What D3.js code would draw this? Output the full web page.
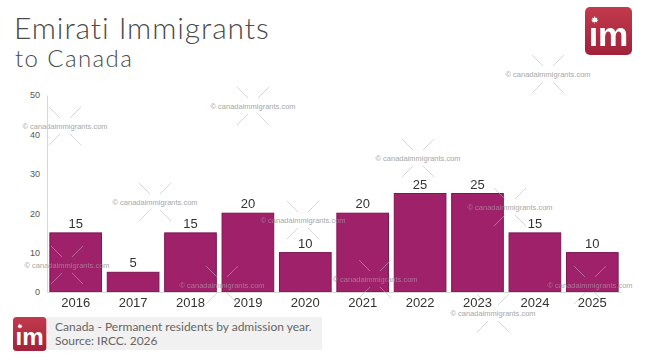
<!DOCTYPE html>
<html>
<head>
<meta charset="utf-8">
<script src="https://cdn.jsdelivr.net/npm/d3@7"></script>
<style>
  body { margin: 0; background: #fff; }
  svg { display: block; }
  .title { font-family: "Lato", "DejaVu Sans", sans-serif; font-weight: 300; fill: #4a4a4a; }
  .tick text { font-family: "Liberation Sans", Arial, sans-serif; }
  .wm { font-family: "Liberation Sans", Arial, sans-serif; font-size: 7.5px; fill: #b8b8b8; }
</style>
</head>
<body>
<div id="chart"></div>
<script>
// Data
const years = ["2016", "2017", "2018", "2019", "2020", "2021", "2022", "2023", "2024", "2025"];
const immigrants = [15, 5, 15, 20, 10, 20, 25, 25, 15, 10];
const yTicks = [0, 10, 20, 30, 40, 50];
// watermark centres (pixels)
const watermarks = [[65, 126], [253, 106], [155, 202], [548, 74], [418, 158], [303, 220],
    [67, 265], [222, 285], [375, 279], [510, 207], [590, 285], [493, 313]];

const W = 645, H = 363;
const barColor = "#9f216a";

const svg = d3.select("#chart")
    .append("svg")
    .attr("width", W)
    .attr("height", H);

// Title
svg.append("text")
    .attr("class", "title")
    .attr("x", 14)
    .attr("y", 39)
    .style("font-size", "30px")
    .style("letter-spacing", "0.9px")
    .text("Emirati Immigrants");
svg.append("text")
    .attr("class", "title")
    .attr("x", 15)
    .attr("y", 67)
    .style("font-size", "24px")
    .style("letter-spacing", "1.4px")
    .text("to Canada");

// Scales
const x = d3.scaleBand()
    .domain(years)
    .range([47, 621])
    .paddingInner(0.1)
    .paddingOuter(0.05);

const y = d3.scaleLinear()
    .domain([0, 50])
    .range([292, 95]);

function drawWatermarks(parent) {
    watermarks.forEach(([cx, cy]) => {
        const g = parent.append("g").attr("transform", `translate(${cx},${cy})`);
        [[-1, -1], [1, -1], [-1, 1], [1, 1]].forEach(([sx, sy]) => {
            g.append("line")
                .attr("x1", sx * 5).attr("y1", sy * 8)
                .attr("x2", sx * 16).attr("y2", sy * 19)
                .attr("stroke", "#d0d0d0")
                .attr("stroke-width", 0.8);
        });
        g.append("text")
            .attr("class", "wm")
            .attr("text-anchor", "middle")
            .attr("y", 3)
            .text("\u00a9 canadaimmigrants.com");
    });
}

// Watermarks (drawn under bars)
drawWatermarks(svg.append("g"));

// Y axis
const yAxis = svg.append("g")
    .attr("transform", "translate(47,0)")
    .call(d3.axisLeft(y).tickValues(yTicks).tickSize(0).tickPadding(7));
yAxis.select(".domain").attr("stroke", "#d8d8d8");
yAxis.selectAll("text").style("font-size", "9px").attr("fill", "#555");

// Bars
svg.selectAll(".bar")
    .data(immigrants)
    .enter()
    .append("rect")
    .attr("class", "bar")
    .attr("x", (d, i) => x(years[i]))
    .attr("y", d => y(d))
    .attr("width", x.bandwidth())
    .attr("height", d => y(0) - y(d))
    .attr("fill", barColor)
    .attr("stroke", "#7d1552")
    .attr("stroke-width", 1);

// Watermarks on top of bars (faint)
drawWatermarks(svg.append("g").style("opacity", 0.55));

// X axis
const xAxis = svg.append("g")
    .attr("transform", `translate(0,${y(0)})`)
    .call(d3.axisBottom(x).tickSize(0).tickPadding(6));
xAxis.select(".domain").attr("stroke", "#d8d8d8");
xAxis.selectAll("text").style("font-size", "13px").attr("fill", "#333");

// Value labels
svg.selectAll(".label")
    .data(immigrants)
    .enter()
    .append("text")
    .attr("class", "label")
    .attr("x", (d, i) => x(years[i]) + x.bandwidth() / 2)
    .attr("y", d => y(d) - 5)
    .attr("text-anchor", "middle")
    .style("font-family", "Liberation Sans, Arial, sans-serif")
    .style("font-size", "13px")
    .attr("fill", "#333")
    .text(d => d);

// Logo
function drawLogo(x0, y0, s) {
    const g = svg.append("g").attr("transform", `translate(${x0},${y0}) scale(${s})`);
    const grad = svg.append("defs").append("linearGradient")
        .attr("id", "lg" + x0).attr("x1", 0).attr("y1", 0).attr("x2", 0).attr("y2", 1);
    grad.append("stop").attr("offset", "0%").attr("stop-color", "#c23a4c");
    grad.append("stop").attr("offset", "100%").attr("stop-color", "#a1223a");
    g.append("rect")
        .attr("width", 47).attr("height", 48).attr("rx", 5)
        .attr("fill", `url(#lg${x0})`);
    g.append("text")
        .attr("x", 23.5).attr("y", 39)
        .attr("text-anchor", "middle")
        .style("font-family", "Liberation Sans, Arial, sans-serif")
        .style("font-weight", "bold")
        .style("font-size", "34px")
        .attr("fill", "#fff")
        .text("\u0131m");
    // maple leaf dot
    g.append("path")
        .attr("d", "M9.5,9 l1.2,2.2 1.6,-0.8 -0.4,2.6 1.6,-0.4 -1.6,2 0.6,0.6 -2.6,-0.2 0.1,1.8 -0.5,0 0.1,-1.8 -2.6,0.2 0.6,-0.6 -1.6,-2 1.6,0.4 -0.4,-2.6 1.6,0.8z")
        .attr("fill", "#fff");
}
drawLogo(585, 7, 1);
drawLogo(13, 317, 0.71);

// Footer
svg.append("rect")
    .attr("x", 47).attr("y", 317)
    .attr("width", 275).attr("height", 33)
    .attr("fill", "#f1f1f1");
svg.append("text")
    .attr("x", 55).attr("y", 331)
    .style("font-family", "Lato, DejaVu Sans, sans-serif")
    .style("font-size", "12px")
    .attr("fill", "#666")
    .text("Canada - Permanent residents by admission year.");
svg.append("text")
    .attr("x", 55).attr("y", 345)
    .style("font-family", "Lato, DejaVu Sans, sans-serif")
    .style("font-size", "12px")
    .attr("fill", "#666")
    .text("Source: IRCC. 2026");
</script>
</body>
</html>
